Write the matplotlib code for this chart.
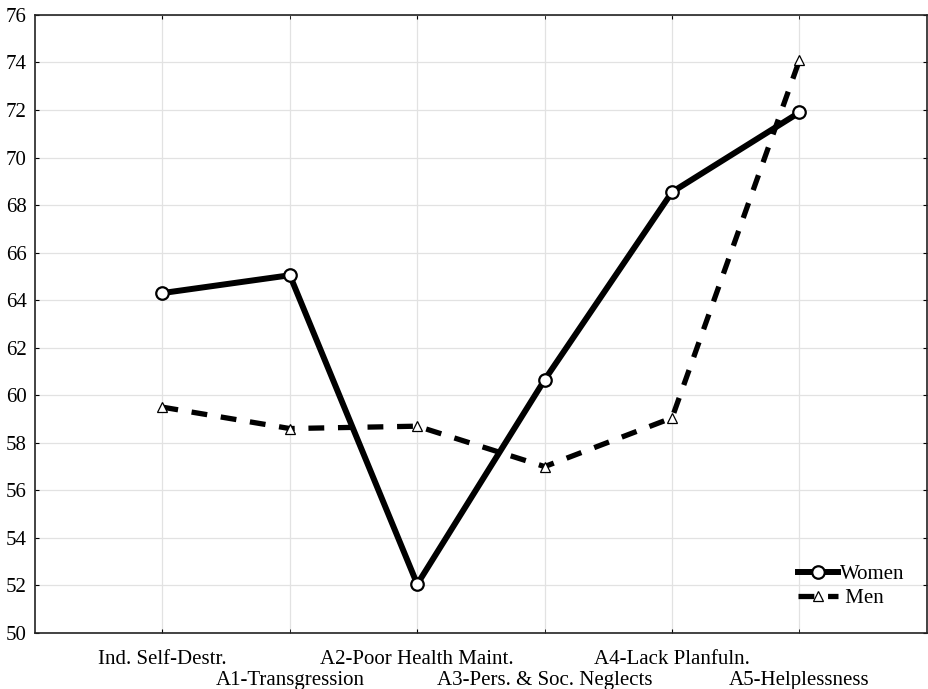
import matplotlib.pyplot as plt
import numpy as np

plt.rcParams["font.family"] = ["Liberation Serif", "DejaVu Serif"]

categories = ["Ind. Self-Destr.", "A1-Transgression", "A2-Poor Health Maint.",
              "A3-Pers. & Soc. Neglects", "A4-Lack Planfuln.", "A5-Helplessness"]
women = [64.3, 65.05, 52.05, 60.65, 68.55, 71.9]
men = [59.5, 58.6, 58.7, 57.0, 59.05, 74.1]

x = np.arange(1, len(categories) + 1)

fig = plt.figure(figsize=(9.29, 6.89), dpi=100)
ax = fig.add_axes([0.0377, 0.0813, 0.96, 0.897])

ax.plot(x, women, color="black", linewidth=4.3, marker="o", markersize=9,
        markerfacecolor="white", markeredgecolor="black", markeredgewidth=1.6,
        label="Women", zorder=3)
ax.plot(x, men, color="black", linewidth=3.8, linestyle=(0, (3, 2.6)),
        dash_capstyle="butt", marker="^", markersize=7.5,
        markerfacecolor="white", markeredgecolor="black", markeredgewidth=0.9,
        label=" Men", zorder=3)

ax.set_xlim(0, 7)
ax.set_ylim(50, 76)
ax.set_yticks(np.arange(50, 77, 2))
# alternate the category labels on two rows
ax.set_xticks(x[::2], categories[::2], fontsize=15)
ax.set_xticks(x[1::2], categories[1::2], minor=True, fontsize=15)
ax.tick_params(axis="y", labelsize=15, direction="in", right=True, length=3, pad=6)
ax.tick_params(axis="x", which="both", direction="in", top=True, length=3)
ax.tick_params(axis="x", which="major", pad=12.5)
ax.tick_params(axis="x", which="minor", pad=27.5)

ax.grid(which="both", color="#e2e2e2", linewidth=0.9)
ax.set_axisbelow(True)
for s in ax.spines.values():
    s.set_linewidth(1.2)
    s.set_color("#222222")

leg = ax.legend(loc="lower right", bbox_to_anchor=(0.996, 0.01), frameon=False,
                fontsize=15, handlelength=1.9, handletextpad=0.1,
                labelspacing=0.2)

plt.savefig("out.png", dpi=100)
plt.close()
